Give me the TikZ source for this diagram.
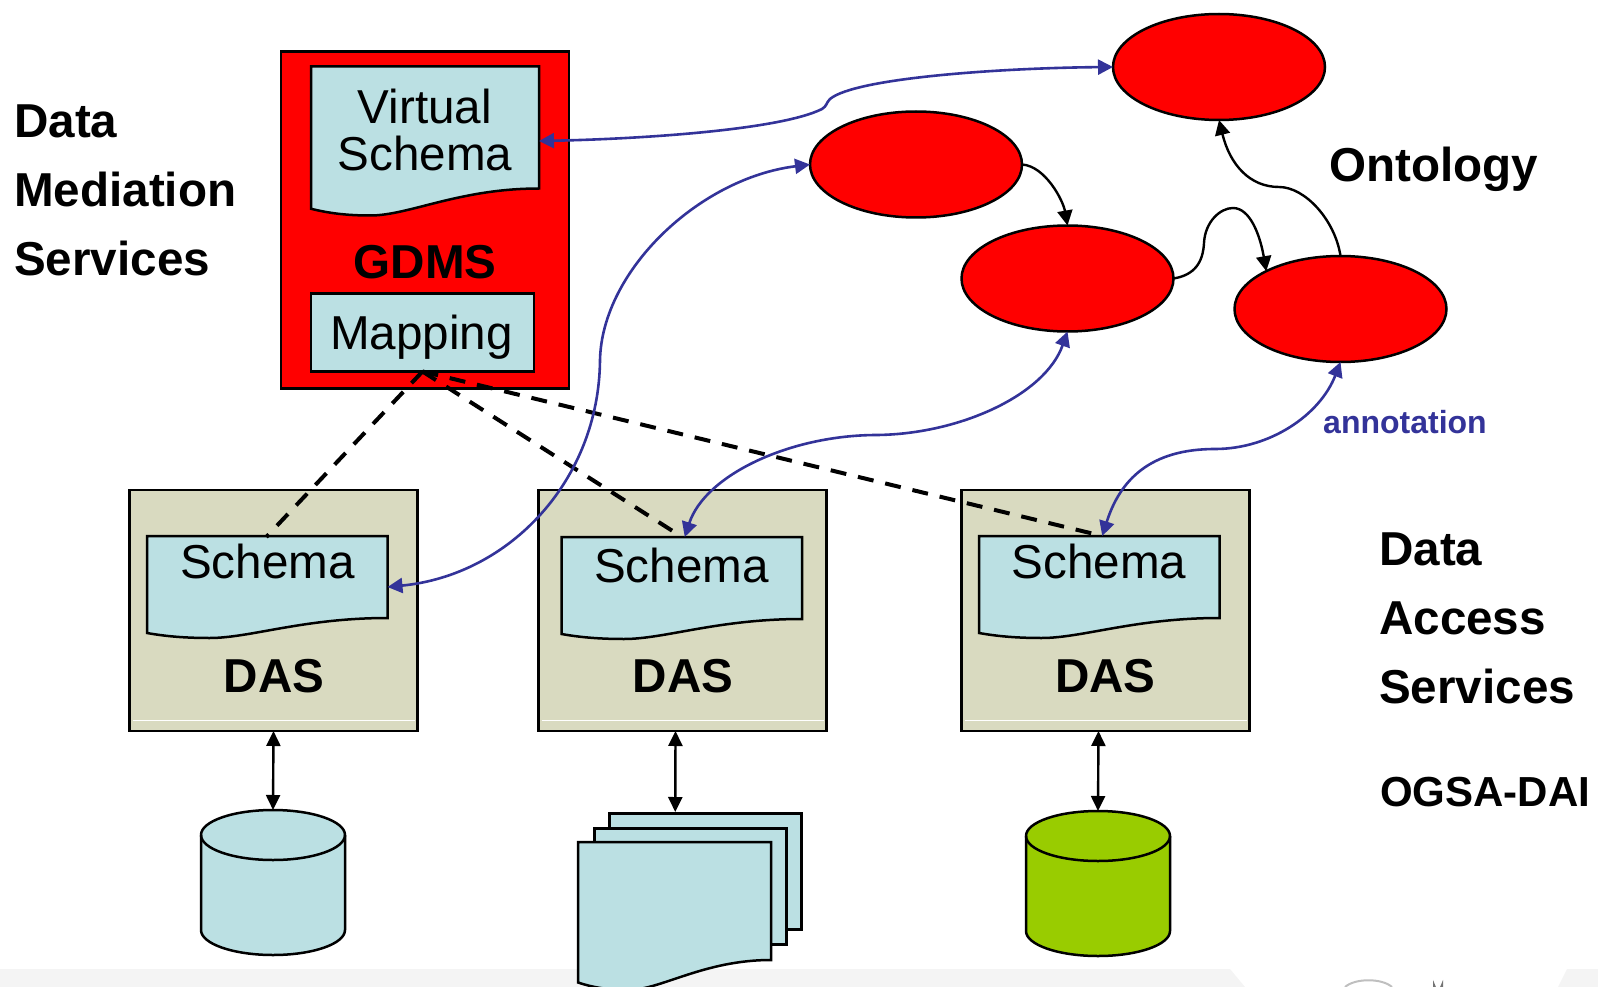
\documentclass[tikz,border=0pt]{standalone}
\usepackage{fontspec}
\setmainfont{Liberation Sans}
\usetikzlibrary{arrows.meta,positioning,calc,shapes.geometric}
\definecolor{schemablue}{HTML}{BBE0E3}
\definecolor{dasgrey}{HTML}{D9DAC0}
\definecolor{linkblue}{HTML}{333399}
\definecolor{dbgreen}{HTML}{99CC00}
\definecolor{barGrey}{HTML}{F4F4F4}
\newcommand{\docshape}[6]{%
  \node[docbox,minimum width=#4pt,minimum height=#5pt] (#1) at (#2,#3) {};
  \draw[docline] (#1.north west) -- (#1.north east) -- ($(#1.south east)+(0,-#6)$)
    .. controls ($(#1.south east)+(-0.35*#4,-#6)$) and ($(#1.south west)+(0.43*#4,0)$) .. ($(#1.south west)+(0.26*#4,0)$)
    .. controls ($(#1.south west)+(0.15*#4,0)$) and ($(#1.south west)+(0.07*#4,-0.1*#6)$) .. ($(#1.south west)+(0,-0.25*#6)$) -- cycle;
}
\newcommand{\dbshape}[4]{%
  \node[docbox,minimum width=144pt,minimum height=145pt] (#1) at (#2,#3) {};
  \draw[docline,fill=#4] ($(#1.north west)+(0,25)$) arc[start angle=180,delta angle=-180,x radius=72pt,y radius=25pt]
    -- ($(#1.south east)+(0,-25)$) arc[start angle=0,delta angle=-180,x radius=72pt,y radius=25pt] -- cycle;
  \draw[docline,fill=none] ($(#1.north west)+(0,25)$) arc[start angle=180,delta angle=180,x radius=72pt,y radius=25pt];
}
\tikzset{
  bigreg/.style={font=\fontsize{47.6}{47.6}\selectfont,inner sep=0pt,anchor=base},
  bigbold/.style={font=\fontsize{47.6}{69}\selectfont\bfseries,inner sep=0pt,align=left},
  docbox/.style={rectangle,anchor=north west,inner sep=0pt,outer sep=0pt},
  docline/.style={draw=black,fill=schemablue,line width=2.5pt,line join=miter},
  plainbox/.style={rectangle,draw=black,line width=2.8pt,anchor=north west,inner sep=0pt,outer sep=0pt},
  dasbox/.style={plainbox,fill=dasgrey,minimum width=288pt,minimum height=241pt},
  onto/.style={ellipse,draw=black,fill=red,line width=2.5pt,minimum width=212pt,minimum height=106pt,inner sep=0pt,outer sep=0pt},
  sheet/.style={rectangle,draw=black,fill=schemablue,line width=2.5pt,anchor=north west,inner sep=0pt,minimum width=192pt,minimum height=116pt},
  link/.style={draw=linkblue,line width=2.6pt,{Triangle[length=15pt,width=15pt]}-{Triangle[length=15pt,width=15pt]},linkblue},
  rel/.style={draw=black,line width=2.4pt,-{Triangle[length=15pt,width=15pt]}},
  access/.style={draw=black,line width=2.4pt,{Triangle[length=15pt,width=14pt]}-{Triangle[length=15pt,width=14pt]}},
  dashlink/.style={draw=black,line width=4pt,dash pattern=on 16pt off 12pt}
}
\begin{document}
\begin{tikzpicture}[x=1pt,y=-1pt]
  \useasboundingbox (0,0) rectangle (1598,987);
  \clip (0,0) rectangle (1598,987);

  \fill[barGrey] (0,969) -- (1230,969) -- (1245,987) -- (0,987) -- cycle;
  \fill[barGrey] (1567,969) -- (1598,969) -- (1598,987) -- (1558,987) -- cycle;
  \draw[black!25,line width=2pt] (1345,987) .. controls (1355,978) and (1382,978) .. (1392,987);
  \draw[black!55,line width=2pt] (1434,987) -- (1434,985) arc (180:0:4) -- (1442,987);

  \node[plainbox,fill=red,minimum width=288pt,minimum height=337pt] (gdms) at (281,51.5) {};
  \docshape{vschema}{311}{66.5}{228}{149}{27}
  \node[bigreg] (vtext) at (425,124) {Virtual};
  \node[bigreg] (vtext2) at (425,170.5) {Schema};
  \node[bigreg,font=\fontsize{47.6}{47.6}\selectfont\bfseries] (gdmstext) at (425,278) {GDMS};
  \node[plainbox,draw=black,fill=schemablue,line width=2.5pt,minimum width=223pt,minimum height=78pt] (mapping) at (311,293.5) {};
  \node[bigreg] (maptext) at (421.5,349) {Mapping};

  \node[dasbox] (das1) at (129.5,490) {};
  \node[dasbox] (das2) at (538.5,490) {};
  \node[dasbox] (das3) at (961.5,490) {};
  \draw[white,line width=1pt] ([xshift=3pt,yshift=11pt]das1.south west) -- ([xshift=-3pt,yshift=11pt]das1.south east);
  \draw[white,line width=1pt] ([xshift=3pt,yshift=11pt]das2.south west) -- ([xshift=-3pt,yshift=11pt]das2.south east);
  \draw[white,line width=1pt] ([xshift=3pt,yshift=11pt]das3.south west) -- ([xshift=-3pt,yshift=11pt]das3.south east);

  \docshape{schema1}{147}{536}{240.5}{102}{20}
  \docshape{schema2}{561.5}{537}{240.5}{102}{20}
  \docshape{schema3}{979}{536}{240.5}{102}{20}
  \node[bigreg] (s1text) at (267.5,578) {Schema};
  \node[bigreg] (s2text) at (681.5,582.5) {Schema};
  \node[bigreg] (s3text) at (1099,578) {Schema};
  \node[bigreg,font=\fontsize{47.6}{47.6}\selectfont\bfseries] (d1text) at (274,692) {DAS};
  \node[bigreg,font=\fontsize{47.6}{47.6}\selectfont\bfseries] (d2text) at (683,692) {DAS};
  \node[bigreg,font=\fontsize{47.6}{47.6}\selectfont\bfseries] (d3text) at (1105.5,692) {DAS};

  \dbshape{db1}{201}{810}{schemablue}
  \dbshape{db3}{1026}{811}{dbgreen}
  \node[sheet] (files3) at (608,812) {};
  \node[sheet] (files2) at (593,827) {};
  \docshape{files1}{578}{842}{193}{148}{30}

  \node[onto] (top) at (1219,67) {};
  \node[onto] (left) at (916,164.5) {};
  \node[onto] (mid) at (1067.5,278.5) {};
  \node[onto] (right) at (1340.5,309) {};

  \draw[dashlink] (mapping.south) -- ([yshift=-1pt,xshift=-1pt]schema1.north);
  \draw[dashlink] (mapping.south) -- ([xshift=-6pt,yshift=4pt]schema2.north);
  \draw[dashlink] (mapping.south) -- ([xshift=-5pt,yshift=2pt]schema3.north);

  \draw[link] (vschema.east) .. controls (640,139) and (780,130) .. (822,109) .. controls (827,106) and (826,103) .. (830,99) .. controls (855,78) and (1000,68) .. (top.west);
  \draw[link] (left.west) .. controls (700,178) and (602,270) .. (600,360) .. controls (599,480) and (510,575) .. (schema1.east);
  \draw[link] (mid.south) .. controls (1045,395) and (960,434) .. (877,435) .. controls (790,435) and (705,475) .. ([xshift=3pt]schema2.north);
  \draw[link] (right.south) .. controls (1320,415) and (1270,449) .. (1215,449) .. controls (1150,449) and (1120,480) .. ([xshift=3pt]schema3.north);

  \draw[rel] (left.east) .. controls (1045,166) and (1063,200) .. (mid.north);
  \draw[rel] (mid.east) .. controls (1195,275) and (1203,262) .. (1204,243) .. controls (1205,222) and (1220,208) .. (1233,208) .. controls (1250,208) and (1260,235) .. (right.153);
  \draw[rel] (right.north) .. controls (1335,220) and (1305,187) .. (1279,187) .. controls (1250,187) and (1230,165) .. (top.south);

  \draw[access] (das1.south) -- (db1.north);
  \draw[access] ([xshift=-7pt]das2.south) -- ([xshift=-30pt]files3.north);
  \draw[access] ([xshift=-7pt]das3.south) -- (db3.north);

  \node[bigbold,anchor=west] (mediation) at (14,190.5) {Data\\Mediation\\Services};
  \node[bigbold,anchor=west] (access) at (1379,618) {Data\\Access\\Services};
  \node[bigreg,font=\fontsize{47.6}{47.6}\selectfont\bfseries,anchor=base west] (ontology) at (1329,182) {Ontology};
  \node[bigreg,font=\fontsize{42}{42}\selectfont\bfseries,anchor=base west] (ogsa) at (1380,806) {OGSA-DAI};
  \node[bigreg,font=\fontsize{32}{32}\selectfont\bfseries,text=linkblue,anchor=base west] (annotation) at (1323,433) {annotation};
\end{tikzpicture}
\end{document}
